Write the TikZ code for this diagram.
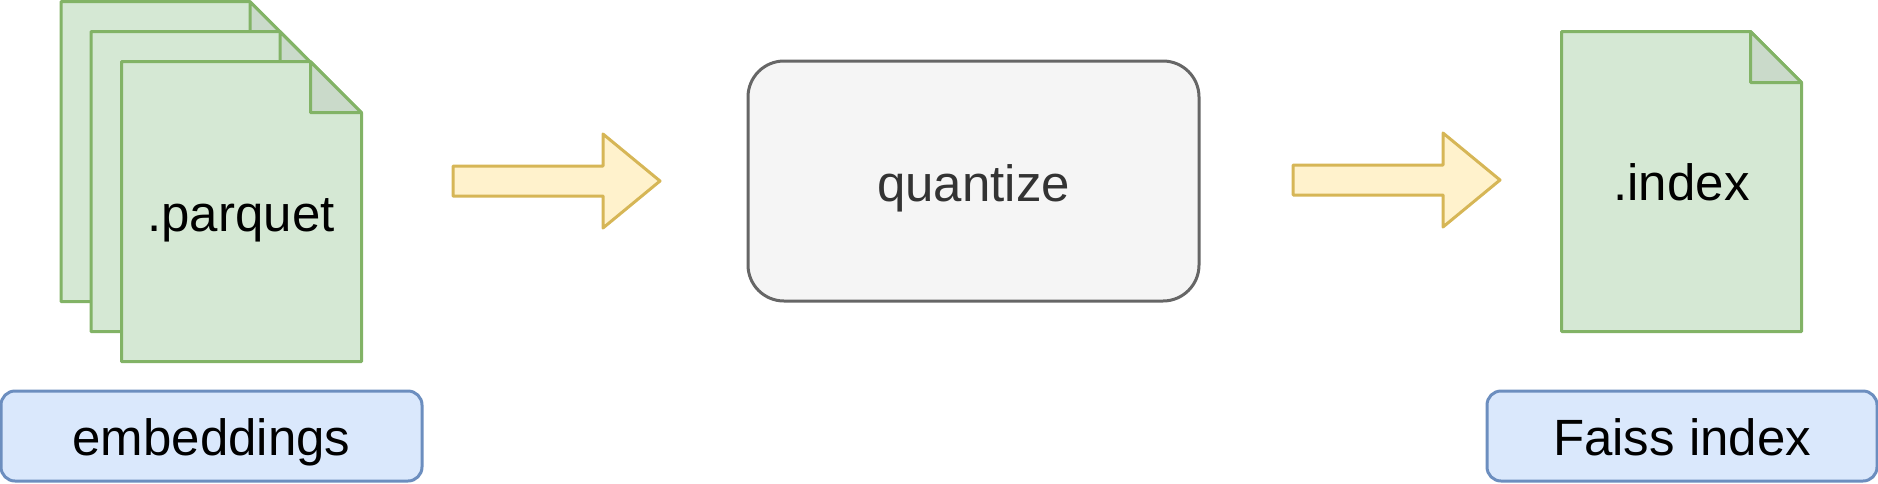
\documentclass[tikz,border=0pt]{standalone}
\usepackage{fontspec}
\setmainfont{Liberation Sans}
\definecolor{pagegreen}{HTML}{D5E8D4}
\definecolor{pageline}{HTML}{82B366}
\definecolor{foldgreen}{HTML}{CADACA}
\definecolor{tagblue}{HTML}{DAE8FC}
\definecolor{tagline}{HTML}{6C8EBF}
\definecolor{arrowfill}{HTML}{FFF2CC}
\definecolor{arrowline}{HTML}{D6B656}
\definecolor{stepfill}{HTML}{F5F5F5}
\definecolor{stepline}{HTML}{666666}
\definecolor{steptext}{HTML}{333333}
\tikzset{
  pagebody/.style={draw=pageline,fill=pagegreen,line width=3pt,line join=round},
  pagefold/.style={draw=pageline,fill=foldgreen,line width=3pt,line join=round},
  pagetext/.style={anchor=base,font=\fontsize{51}{51}\selectfont},
  tagbox/.style={draw=tagline,fill=tagblue,line width=3pt,rounded corners=14pt,minimum height=90pt,
    text height=38pt,text depth=0pt,inner sep=0pt,font=\fontsize{51}{51}\selectfont},
  stepbox/.style={draw=stepline,fill=stepfill,text=steptext,line width=3pt,rounded corners=36pt,
    minimum width=451pt,minimum height=240pt,text height=40pt,text depth=0pt,inner sep=0pt,
    font=\fontsize{51}{51}\selectfont},
  flowarrow/.style={draw=arrowline,fill=arrowfill,line width=3pt,line join=round},
}
\newcommand{\docpage}[2]{
  \draw[pagebody] (#1,#2) -- ++(189,0) -- ++(51,51) -- ++(0,249) -- ++(-240,0) -- cycle;
  \draw[pagefold] (#1+189,#2) -- ++(51,51) -- ++(-51,0) -- cycle;
}
\newcommand{\flowarrowat}[2]{
  \draw[flowarrow] (#1,#2-15) -- ++(150,0) -- ++(0,-32) -- ++(57,47) -- ++(-57,47) -- ++(0,-32) -- ++(-150,0) -- cycle;
}
\begin{document}
\begin{tikzpicture}[x=1pt,y=-1pt]
\useasboundingbox (0,0) rectangle (1878,483);
\docpage{61}{1.7}
\docpage{91}{31.7}
\docpage{121.5}{61.7}
\node[pagetext] (parquet) at (241,231.5) {.parquet};
\flowarrowat{453}{181}
\node[stepbox] (quantize) at (973.5,181) {quantize};
\flowarrowat{1293}{180}
\docpage{1561.5}{31.5}
\node[pagetext] (index) at (1681.5,200.5) {.index};
\node[tagbox,minimum width=421pt] (embeddings) at (211.5,436) {embeddings};
\node[tagbox,minimum width=390pt] (faiss) at (1682,436) {Faiss index};
\end{tikzpicture}
\end{document}
